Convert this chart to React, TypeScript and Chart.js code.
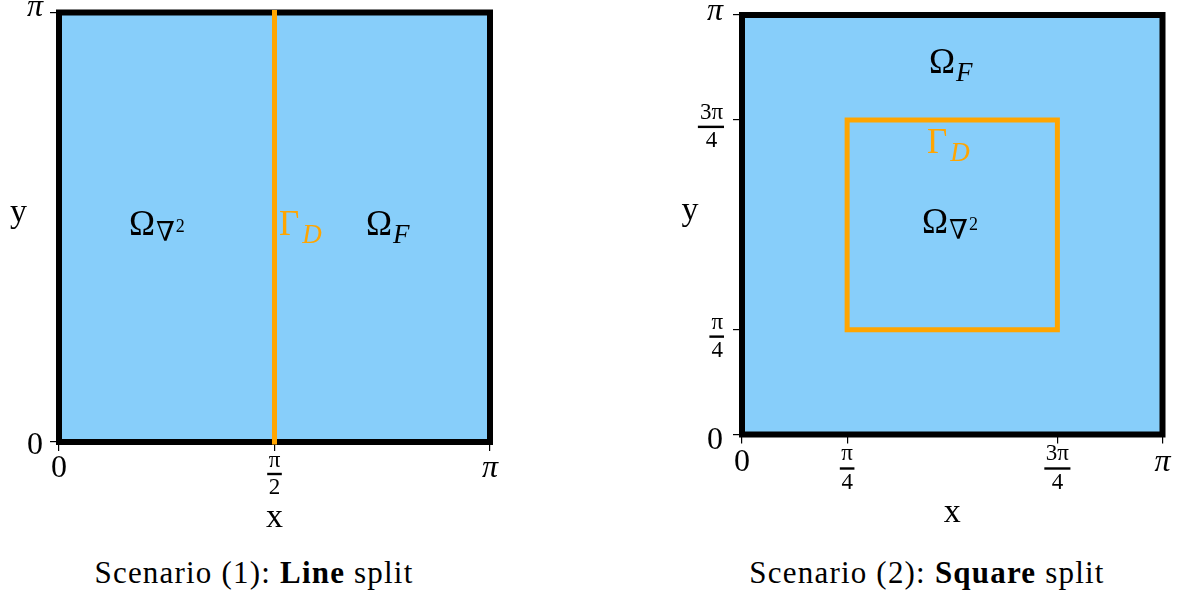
import React, { useEffect, useRef } from 'react';
import { Chart, registerables } from 'chart.js';

Chart.register(...registerables);

const PI = Math.PI;
const SERIF = "'Liberation Serif', 'DejaVu Serif', serif";
const BLUE = '#87CEFA';
const ORANGE = '#FFA500';

// Domain [0, π] × [0, π]
const domainX = [0, PI];
const domainTopY = [PI, PI];
const boundaryX = [0, PI, PI, 0, 0];
const boundaryY = [0, 0, PI, PI, 0];

const xTitle = 'x';
const yTitle = 'y';

// Scenario (1): line split
const s1InterfaceX = [PI / 2, PI / 2];
const s1InterfaceY = [0, PI];
const s1XTicks = [0, PI / 2, PI];
const s1XTickNum = ['0', 'π', 'π'];
const s1XTickDen = ['', '2', ''];
const s1YTicks = [0, PI];
const s1YTickNum = ['0', 'π'];
const s1YTickDen = ['', ''];
const s1RegionMain = ['Ω', 'Γ', 'Ω'];
const s1RegionSub = ['∇', 'D', 'F'];
const s1RegionSup = ['2', '', ''];
const s1RegionX = [0.51, 1.603, 2.238];
const s1RegionY = [1.514, 1.514, 1.514];
const s1RegionColor = ['#000000', ORANGE, '#000000'];
const s1CaptionPre = 'Scenario (1): ';
const s1CaptionBold = 'Line';
const s1CaptionPost = ' split';

// Scenario (2): square split
const s2InterfaceX = [PI / 4, (3 * PI) / 4, (3 * PI) / 4, PI / 4, PI / 4];
const s2InterfaceY = [PI / 4, PI / 4, (3 * PI) / 4, (3 * PI) / 4, PI / 4];
const s2XTicks = [0, PI / 4, (3 * PI) / 4, PI];
const s2XTickNum = ['0', 'π', '3π', 'π'];
const s2XTickDen = ['', '4', '4', ''];
const s2YTicks = [0, PI / 4, (3 * PI) / 4, PI];
const s2YTickNum = ['0', 'π', '3π', 'π'];
const s2YTickDen = ['', '4', '4', ''];
const s2RegionMain = ['Ω', 'Γ', 'Ω'];
const s2RegionSub = ['F', 'D', '∇'];
const s2RegionSup = ['', '', '2'];
const s2RegionX = [1.397, 1.382, 1.345];
const s2RegionY = [2.708, 2.109, 1.509];
const s2RegionColor = ['#000000', ORANGE, '#000000'];
const s2CaptionPre = 'Scenario (2): ';
const s2CaptionBold = 'Square';
const s2CaptionPost = ' split';

type PanelCfg = {
  left: number;
  width: number;
  height: number;
  pad: { left: number; top: number; right: number; bottom: number };
  yWidth: number;
  xHeight: number;
  yPad: number;
  yTitleDx: number;
  xTickLH: number;
  xFracLH: number;
  yZeroLH: number;
  yPiLH: number;
  interfaceX: number[];
  interfaceY: number[];
  xTicks: number[];
  xNum: string[];
  xDen: string[];
  yTicks: number[];
  yNum: string[];
  yDen: string[];
  regionMain: string[];
  regionSub: string[];
  regionSup: string[];
  regionX: number[];
  regionY: number[];
  regionColor: string[];
};

const TICK_LEN = 9;
const X_PAD = -4;
const FRAC_SIZE = 23;
const TICK_SIZE = 32;
const Y_FRAC_LH = 14;

const panel1: PanelCfg = {
  left: 0,
  width: 600,
  height: 540,
  pad: { left: 0, top: 12.5, right: 110, bottom: 5.2 },
  yWidth: 59,
  xHeight: 92.8,
  yPad: 7,
  yTitleDx: 40.5,
  xTickLH: 44,
  xFracLH: 27,
  yZeroLH: 8,
  yPiLH: 9,
  interfaceX: s1InterfaceX,
  interfaceY: s1InterfaceY,
  xTicks: s1XTicks,
  xNum: s1XTickNum,
  xDen: s1XTickDen,
  yTicks: s1YTicks,
  yNum: s1YTickNum,
  yDen: s1YTickDen,
  regionMain: s1RegionMain,
  regionSub: s1RegionSub,
  regionSup: s1RegionSup,
  regionX: s1RegionX,
  regionY: s1RegionY,
  regionColor: s1RegionColor,
};

const panel2: PanelCfg = {
  left: 600,
  width: 582,
  height: 540,
  pad: { left: 0, top: 15, right: 19.5, bottom: 9.7 },
  yWidth: 142,
  xHeight: 95.8,
  yPad: 10,
  yTitleDx: 52,
  xTickLH: 47,
  xFracLH: 29,
  yZeroLH: 12,
  yPiLH: 7,
  interfaceX: s2InterfaceX,
  interfaceY: s2InterfaceY,
  xTicks: s2XTicks,
  xNum: s2XTickNum,
  xDen: s2XTickDen,
  yTicks: s2YTicks,
  yNum: s2YTickNum,
  yDen: s2YTickDen,
  regionMain: s2RegionMain,
  regionSub: s2RegionSub,
  regionSup: s2RegionSup,
  regionX: s2RegionX,
  regionY: s2RegionY,
  regionColor: s2RegionColor,
};

const pts = (xs: number[], ys: number[]) => xs.map((x, i) => ({ x, y: ys[i] }));

function fracFont() {
  return `${FRAC_SIZE}px ${SERIF}`;
}

function makeDecor(cfg: PanelCfg) {
  return {
    id: 'decor',
    afterDraw(chart: any) {
      const { ctx, chartArea, scales } = chart;
      const xs = scales.x;
      const ys = scales.y;
      ctx.save();
      ctx.fillStyle = '#000';
      // fraction bars on x ticks
      cfg.xTicks.forEach((v, i) => {
        if (!cfg.xDen[i]) return;
        ctx.font = fracFont();
        const w = Math.max(ctx.measureText(cfg.xNum[i]).width, ctx.measureText(cfg.xDen[i]).width) + 3;
        const px = xs.getPixelForValue(v);
        const by = chartArea.bottom + TICK_LEN + X_PAD + cfg.xFracLH;
        ctx.fillRect(px - w / 2, by - 1.2, w, 2.4);
      });
      // fraction bars on y ticks
      cfg.yTicks.forEach((v, i) => {
        if (!cfg.yDen[i]) return;
        ctx.font = fracFont();
        const w = Math.max(ctx.measureText(cfg.yNum[i]).width, ctx.measureText(cfg.yDen[i]).width) + 3;
        const rx = chartArea.left - TICK_LEN - cfg.yPad + 1;
        const by = ys.getPixelForValue(v) + Y_FRAC_LH / 2;
        ctx.fillRect(rx - w, by - 1.2, w, 2.4);
      });
      // y axis title (upright)
      ctx.font = `34px ${SERIF}`;
      ctx.textAlign = 'center';
      ctx.textBaseline = 'alphabetic';
      ctx.fillText(yTitle, chartArea.left - cfg.yTitleDx, (chartArea.top + chartArea.bottom) / 2 - 5);
      // region labels
      ctx.textAlign = 'left';
      cfg.regionMain.forEach((main, i) => {
        const px = xs.getPixelForValue(cfg.regionX[i]);
        const py = ys.getPixelForValue(cfg.regionY[i]);
        ctx.fillStyle = cfg.regionColor[i];
        ctx.font = `35px ${SERIF}`;
        ctx.fillText(main, px, py);
        let x = px + ctx.measureText(main).width;
        const sub = cfg.regionSub[i];
        if (sub) {
          const letter = /[A-Za-z]/.test(sub);
          ctx.font = letter ? `italic 27px ${SERIF}` : `27px ${SERIF}`;
          const gx = letter ? (sub === 'D' ? 3 : 1) : 1;
          ctx.fillText(sub, x + gx, py + (letter ? 8 : 6));
          x += gx + ctx.measureText(sub).width;
        }
        const sup = cfg.regionSup[i];
        if (sup) {
          ctx.font = `18px ${SERIF}`;
          ctx.fillText(sup, x + 1, py - 3);
        }
      });
      ctx.restore();
    },
  };
}

function tickFont(num: string[], den: string[], lineHeights: (i: number) => number) {
  return (c: any) => {
    const i = typeof c.index === 'number' ? c.index : 0;
    const frac = !!den[i];
    const italic = !frac && (num[i] || '').includes('π');
    return {
      family: SERIF,
      size: frac ? FRAC_SIZE : TICK_SIZE,
      style: italic ? 'italic' : 'normal',
      lineHeight: `${lineHeights(i)}px`,
    };
  };
}

function buildConfig(cfg: PanelCfg): any {
  return {
    type: 'line',
    data: {
      datasets: [
        {
          data: pts(cfg.interfaceX, cfg.interfaceY),
          borderColor: ORANGE,
          borderWidth: 5,
          borderJoinStyle: 'miter',
          borderCapStyle: 'square',
          pointRadius: 0,
          fill: false,
          tension: 0,
          clip: false,
          order: 1,
        },
        {
          data: pts(boundaryX, boundaryY),
          borderColor: '#000000',
          borderWidth: 6,
          borderJoinStyle: 'miter',
          borderCapStyle: 'square',
          pointRadius: 0,
          fill: false,
          tension: 0,
          clip: false,
          order: 2,
        },
        {
          data: pts(domainX, domainTopY),
          borderWidth: 0,
          borderColor: 'rgba(0,0,0,0)',
          backgroundColor: BLUE,
          pointRadius: 0,
          fill: 'origin',
          tension: 0,
          order: 3,
        },
      ],
    },
    options: {
      responsive: false,
      animation: false,
      events: [],
      layout: { padding: cfg.pad },
      plugins: { legend: { display: false }, tooltip: { enabled: false }, title: { display: false } },
      scales: {
        x: {
          type: 'linear',
          min: 0,
          max: PI,
          afterBuildTicks: (s: any) => {
            s.ticks = cfg.xTicks.map((v) => ({ value: v }));
          },
          afterFit: (s: any) => {
            s.height = cfg.xHeight;
            s.paddingLeft = 0;
            s.paddingRight = 0;
          },
          grid: { display: true, drawOnChartArea: false, drawTicks: true, tickLength: TICK_LEN, color: '#000', lineWidth: 1.2 },
          border: { display: false },
          ticks: {
            autoSkip: false,
            maxRotation: 0,
            minRotation: 0,
            padding: X_PAD,
            color: '#000',
            font: tickFont(cfg.xNum, cfg.xDen, (i) => (cfg.xDen[i] ? cfg.xFracLH : cfg.xTickLH)),
            callback: (_v: any, i: number) => (cfg.xDen[i] ? [cfg.xNum[i], cfg.xDen[i]] : cfg.xNum[i]),
          },
          title: { display: true, text: xTitle, color: '#000', padding: 0, font: { family: SERIF, size: 34, lineHeight: 1 } },
        },
        y: {
          type: 'linear',
          min: 0,
          max: PI,
          afterBuildTicks: (s: any) => {
            s.ticks = cfg.yTicks.map((v) => ({ value: v }));
          },
          afterFit: (s: any) => {
            s.width = cfg.yWidth;
            s.paddingTop = 0;
            s.paddingBottom = 0;
          },
          grid: { display: true, drawOnChartArea: false, drawTicks: true, tickLength: TICK_LEN, color: '#000', lineWidth: 1.2 },
          border: { display: false },
          ticks: {
            autoSkip: false,
            padding: cfg.yPad,
            color: '#000',
            font: tickFont(cfg.yNum, cfg.yDen, (i) =>
              cfg.yDen[i] ? Y_FRAC_LH : cfg.yNum[i] === '0' ? cfg.yZeroLH : cfg.yPiLH
            ),
            callback: (_v: any, i: number) => {
              const num = cfg.yNum[i];
              const den = cfg.yDen[i];
              if (den) {
                const denPadded = num.length > den.length ? den + '\u2005' : den;
                return ['', num, '', denPadded];
              }
              return num === '0' ? ['', num] : [num, ''];
            },
          },
          title: { display: false },
        },
      },
    },
    plugins: [makeDecor(cfg)],
  };
}

function Panel({ cfg }: { cfg: PanelCfg }) {
  const ref = useRef<HTMLCanvasElement>(null);
  useEffect(() => {
    const chart = new Chart(ref.current as HTMLCanvasElement, buildConfig(cfg));
    return () => chart.destroy();
  }, [cfg]);
  return (
    <canvas
      ref={ref}
      width={cfg.width}
      height={cfg.height}
      style={{ position: 'absolute', left: cfg.left, top: 0, width: cfg.width, height: cfg.height }}
    />
  );
}

const captionStyle = (cx: number): React.CSSProperties => ({
  position: 'absolute',
  left: cx - 300,
  top: 557,
  width: 600,
  textAlign: 'center',
  fontFamily: SERIF,
  fontSize: 31,
  lineHeight: '31px',
  letterSpacing: 1.2,
  color: '#000',
  whiteSpace: 'nowrap',
});

export default function App() {
  return (
    <div style={{ position: 'absolute', left: 0, top: 0, width: 1182, height: 590, background: '#fff', overflow: 'hidden' }}>
      <Panel cfg={panel1} />
      <Panel cfg={panel2} />
      <div style={captionStyle(254)}>
        {s1CaptionPre}
        <b>{s1CaptionBold}</b>
        {s1CaptionPost}
      </div>
      <div style={captionStyle(927)}>
        {s2CaptionPre}
        <b>{s2CaptionBold}</b>
        {s2CaptionPost}
      </div>
    </div>
  );
}
